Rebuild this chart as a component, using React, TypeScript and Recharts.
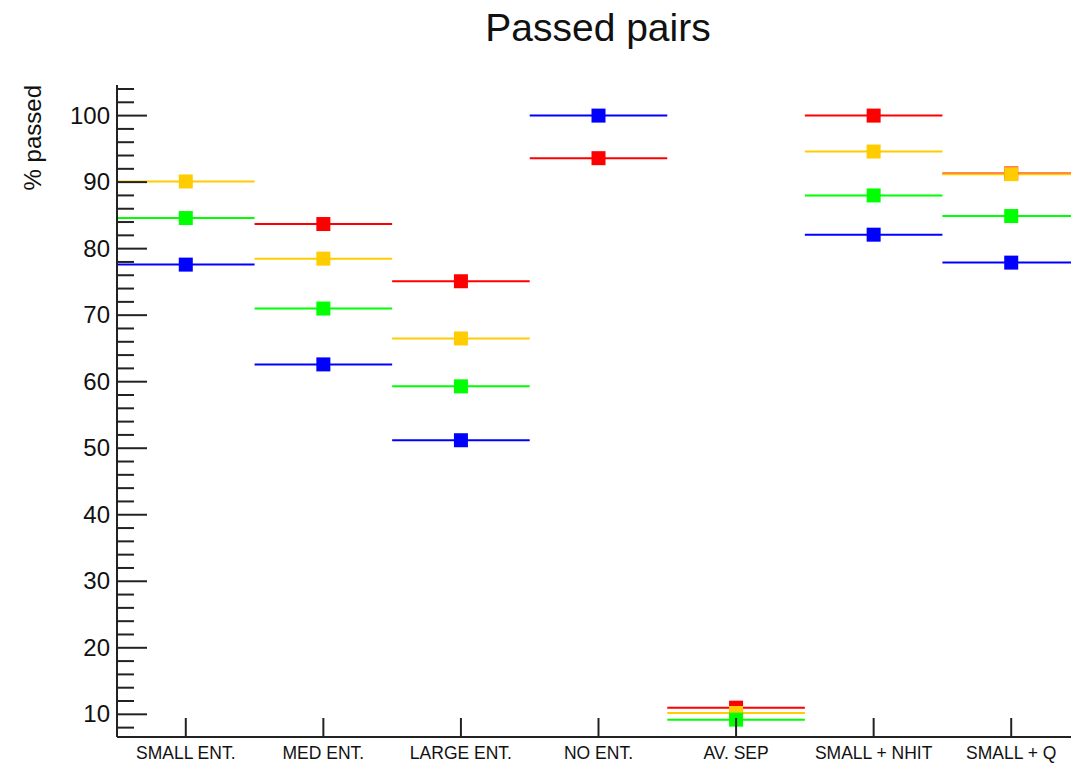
import { ComposedChart, Scatter, ErrorBar, XAxis, YAxis } from "recharts";

const categories = [
  "SMALL ENT.",
  "MED ENT.",
  "LARGE ENT.",
  "NO ENT.",
  "AV. SEP",
  "SMALL + NHIT",
  "SMALL + Q",
];

const redValues = [null, 83.7, 75.1, 93.6, 11.0, 100, 91.3];
const orangeValues = [90.1, 78.5, 66.5, null, 10.2, 94.6, 91.2];
const greenValues = [84.6, 71.0, 59.3, null, 9.2, 88.0, 84.9];
const blueValues = [77.6, 62.6, 51.2, 100, null, 82.1, 77.9];

const majorTicks = [10, 20, 30, 40, 50, 60, 70, 80, 90, 100];
const yTicks = [
  8, 10, 12, 14, 16, 18, 20, 22, 24, 26, 28, 30, 32, 34, 36, 38, 40, 42, 44, 46,
  48, 50, 52, 54, 56, 58, 60, 62, 64, 66, 68, 70, 72, 74, 76, 78, 80, 82, 84,
  86, 88, 90, 92, 94, 96, 98, 100, 102, 104,
];
const xTicks = [1, 2, 3, 4, 5, 6, 7];

const series = [
  { name: "red", color: "#ff0000", values: redValues },
  { name: "orange", color: "#ffcc00", values: orangeValues },
  { name: "green", color: "#00ff00", values: greenValues },
  { name: "blue", color: "#0000ff", values: blueValues },
];

const FONT = "'Liberation Sans', Arial, Helvetica, sans-serif";
const AXIS = "#222";

function buildData(values: (number | null)[]) {
  return values
    .map((v, i) => ({ x: i + 1, y: v, err: 0.5 }))
    .filter((d) => d.y !== null);
}

function YTick(props: any) {
  const { x, y, payload } = props;
  const major = majorTicks.includes(payload.value);
  return (
    <g>
      <line x1={x} x2={x + (major ? 30 : 17)} y1={y} y2={y} stroke={AXIS} strokeWidth={2} />
      {major && (
        <text
          x={x - 7}
          y={y}
          dy={8}
          textAnchor="end"
          fontFamily={FONT}
          fontSize={24}
          fill="#111"
        >
          {payload.value}
        </text>
      )}
    </g>
  );
}

function XTick(props: any) {
  const { x, y, payload } = props;
  return (
    <g>
      <line x1={x} x2={x} y1={y} y2={y - 19} stroke={AXIS} strokeWidth={2} />
      <text
        x={x}
        y={y + 22}
        textAnchor="middle"
        fontFamily={FONT}
        fontSize={17.5}
        fill="#111"
      >
        {categories[payload.value - 1]}
      </text>
    </g>
  );
}

function square(color: string) {
  return (p: any) => (
    <rect x={p.cx - 7} y={p.cy - 7} width={14} height={14} fill={color} />
  );
}

export default function App() {
  return (
    <div
      style={{
        position: "absolute",
        left: 0,
        top: 0,
        width: 1071,
        height: 764,
        overflow: "hidden",
        background: "#fff",
      }}
    >
      <ComposedChart
        width={1090}
        height={764}
        margin={{ top: 85, right: 10, bottom: 0, left: 0 }}
      >
        <XAxis
          xAxisId="top"
          orientation="top"
          type="number"
          dataKey="x"
          domain={[0.5, 7.5]}
          allowDataOverflow
          height={0}
          tick={false}
          tickLine={false}
          axisLine={{ stroke: AXIS, strokeWidth: 2 }}
        />
        <XAxis
          type="number"
          dataKey="x"
          domain={[0.5, 7.5]}
          ticks={xTicks}
          allowDataOverflow
          height={27}
          tickSize={0}
          tickMargin={0}
          tickLine={false}
          tick={<XTick />}
          axisLine={{ stroke: AXIS, strokeWidth: 2 }}
          interval={0}
        />
        <YAxis
          type="number"
          dataKey="y"
          domain={[6.59, 104.6]}
          ticks={yTicks}
          allowDataOverflow
          width={117}
          tickSize={0}
          tickMargin={0}
          tickLine={false}
          tick={<YTick />}
          axisLine={{ stroke: AXIS, strokeWidth: 2 }}
          interval={0}
        />
        {series.map((s) => (
          <Scatter
            key={s.name}
            name={s.name}
            data={buildData(s.values)}
            fill={s.color}
            shape={square(s.color)}
            isAnimationActive={false}
          >
            <ErrorBar
              dataKey="err"
              direction="x"
              width={0}
              stroke={s.color}
              strokeWidth={2}
              isAnimationActive={false}
            />
          </Scatter>
        ))}
      </ComposedChart>
      <svg
        width={1071}
        height={764}
        style={{ position: "absolute", left: 0, top: 0, pointerEvents: "none" }}
      >
        <text
          x={598}
          y={41}
          textAnchor="middle"
          fontFamily={FONT}
          fontSize={39}
          fill="#111"
        >
          Passed pairs
        </text>
        <text
          transform="translate(41, 85) rotate(-90)"
          textAnchor="end"
          fontFamily={FONT}
          fontSize={24}
          fill="#111"
        >
          % passed
        </text>
      </svg>
    </div>
  );
}
